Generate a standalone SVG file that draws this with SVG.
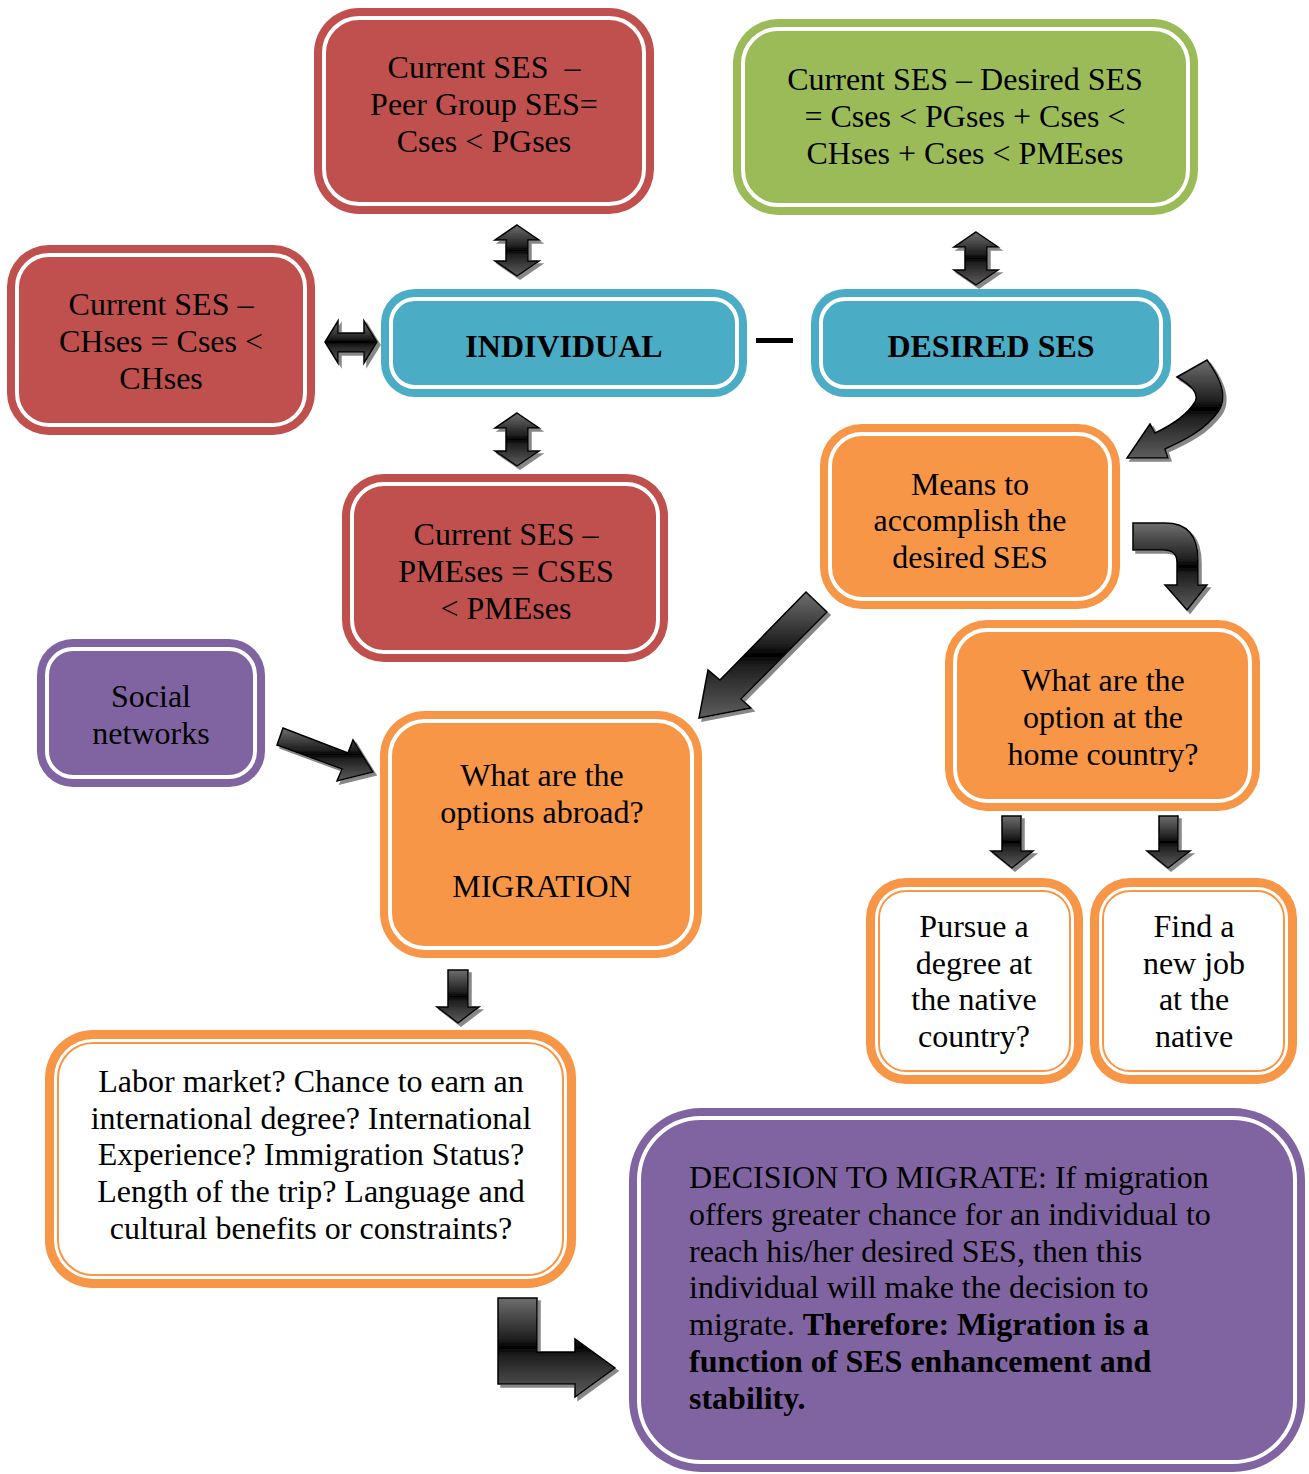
<svg xmlns="http://www.w3.org/2000/svg" width="1309" height="1474" viewBox="0 0 1309 1474">
<defs>
<linearGradient id="g" x1="0" y1="0" x2="0" y2="1">
<stop offset="0" stop-color="#6e6e6e"/>
<stop offset="0.42" stop-color="#1e1e1e"/>
<stop offset="0.5" stop-color="#000"/>
<stop offset="0.58" stop-color="#1e1e1e"/>
<stop offset="1" stop-color="#5e5e5e"/>
</linearGradient>
<filter id="sh" x="-20%" y="-20%" width="150%" height="150%">
<feDropShadow dx="3" dy="3" stdDeviation="0.6" flood-color="#7a7a7a" flood-opacity="0.9"/>
</filter>
</defs>
<style>
.t{font-family:"Liberation Serif","Times New Roman",serif;font-size:32px;fill:#000;text-anchor:middle}
.l{text-anchor:start}
.b{font-weight:bold}
.ln{fill:none;stroke:#fff;stroke-width:4}
.red{fill:#C0504D}
.grn{fill:#9BBB59}
.blu{fill:#4BACC6}
.org{fill:#F79646}
.pur{fill:#8064A2}
.wh{fill:#fff}
.thin{fill:none;stroke:#F79646;stroke-width:2}
.arr{fill:url(#g);stroke:#000;stroke-width:1.5;stroke-linejoin:miter;filter:url(#sh)}
</style>
<rect width="1309" height="1474" fill="#fff"/>

<g id="connectors">
<path class="arr" d="M517,225 L539,240 L528,240 L528,261 L539,261 L517,276 L495,261 L506,261 L506,240 L495,240 Z"/>
<path class="arr" d="M517,413 L539,428 L528,428 L528,451 L539,451 L517,466 L495,451 L506,451 L506,428 L495,428 Z"/>
<path class="arr" d="M976,232 L998,247 L987,247 L987,270 L998,270 L976,285 L954,270 L965,270 L965,247 L954,247 Z"/>
<path class="arr" d="M325,342 L338,321 L338,333 L364,333 L364,321 L377,342 L364,363 L364,352 L338,352 L338,363 Z"/>
<rect x="756" y="338" width="37" height="5" fill="#000"/>
<path class="arr" d="M1177,377 L1207,360 C1222,380 1228,398 1218,412 C1205,430 1185,440 1165,449 L1168,458 L1127,458 L1150,424 L1155,433 C1172,425 1187,415 1195,402 C1200,393 1190,385 1177,377 Z"/>
<path class="arr" d="M1133,523 L1165,523 Q1198,523 1198,560 L1198,585 L1207,585 L1187,610 L1165,585 L1177,585 L1177,562 Q1177,550 1163,550 L1133,550 Z"/>
<path class="arr" d="M806,592 L827,612 L741,699 L751,708 L699,718 L708,670 L720,680 Z"/>
<path class="arr" d="M283,728 L277,745 L342,769 L337,781 L373,772 L353,740 L348,753 Z"/>
<path class="arr" d="M1002,816 L1021,816 L1021,851 L1033,851 L1012,868 L991,851 L1002,851 Z"/>
<path class="arr" d="M1159,816 L1178,816 L1178,851 L1190,851 L1168,868 L1147,851 L1159,851 Z"/>
<path class="arr" d="M448,970 L468,970 L468,1007 L479,1007 L458,1023 L437,1007 L448,1007 Z"/>
<path class="arr" d="M498,1298 L537,1298 L537,1352 L575,1352 L575,1339 L615,1368 L575,1397 L575,1384 L498,1384 Z"/>
</g>

<g id="peer">
<rect class="red" x="314" y="8" width="340" height="206" rx="45"/>
<rect class="ln" x="324" y="18" width="320" height="186" rx="35"/>
<text class="t" x="484" y="78">Current SES&#160; –</text>
<text class="t" x="484" y="115">Peer Group SES=</text>
<text class="t" x="484" y="152">Cses &lt; PGses</text>
</g>

<g id="desiredFormula">
<rect class="grn" x="733" y="19" width="465" height="196" rx="45"/>
<rect class="ln" x="743" y="29" width="445" height="176" rx="35"/>
<text class="t" x="965" y="90">Current SES – Desired SES</text>
<text class="t" x="965" y="127">= Cses &lt; PGses + Cses &lt;</text>
<text class="t" x="965" y="164">CHses + Cses &lt; PMEses</text>
</g>

<g id="chses">
<rect class="red" x="7" y="245" width="308" height="190" rx="42"/>
<rect class="ln" x="17" y="255" width="288" height="170" rx="32"/>
<text class="t" x="161" y="315">Current SES –</text>
<text class="t" x="161" y="352">CHses = Cses &lt;</text>
<text class="t" x="161" y="389">CHses</text>
</g>

<g id="individual">
<rect class="blu" x="381" y="289" width="366" height="108" rx="34"/>
<rect class="ln" x="391" y="299" width="346" height="88" rx="24"/>
<text class="t b" x="564" y="357">INDIVIDUAL</text>
</g>

<g id="desired">
<rect class="blu" x="811" y="289" width="360" height="108" rx="34"/>
<rect class="ln" x="821" y="299" width="340" height="88" rx="24"/>
<text class="t b" x="991" y="357">DESIRED SES</text>
</g>

<g id="pmeses">
<rect class="red" x="342" y="474" width="326" height="188" rx="42"/>
<rect class="ln" x="352" y="484" width="306" height="168" rx="32"/>
<text class="t" x="506" y="545">Current SES –</text>
<text class="t" x="506" y="582">PMEses = CSES</text>
<text class="t" x="506" y="619">&lt; PMEses</text>
</g>

<g id="means">
<rect class="org" x="820" y="424" width="300" height="185" rx="42"/>
<rect class="ln" x="830" y="434" width="280" height="165" rx="32"/>
<text class="t" x="970" y="495">Means to</text>
<text class="t" x="970" y="531">accomplish the</text>
<text class="t" x="970" y="568">desired SES</text>
</g>

<g id="social">
<rect class="pur" x="37" y="639" width="228" height="148" rx="36"/>
<rect class="ln" x="47" y="649" width="208" height="128" rx="26"/>
<text class="t" x="151" y="707">Social</text>
<text class="t" x="151" y="744">networks</text>
</g>

<g id="abroad">
<rect class="org" x="380" y="711" width="322" height="247" rx="45"/>
<rect class="ln" x="390" y="721" width="302" height="227" rx="35"/>
<text class="t" x="542" y="786">What are the</text>
<text class="t" x="542" y="823">options abroad?</text>
<text class="t" x="542" y="897">MIGRATION</text>
</g>

<g id="home">
<rect class="org" x="945" y="620" width="315" height="191" rx="42"/>
<rect class="ln" x="955" y="630" width="295" height="171" rx="32"/>
<text class="t" x="1103" y="691">What are the</text>
<text class="t" x="1103" y="728">option at the</text>
<text class="t" x="1103" y="765">home country?</text>
</g>

<g id="pursue">
<rect class="org" x="866" y="878" width="217" height="206" rx="40"/>
<rect class="wh" x="875" y="887" width="199" height="188" rx="31"/>
<rect class="thin" x="879" y="891" width="191" height="180" rx="27"/>
<text class="t" x="974" y="937">Pursue a</text>
<text class="t" x="974" y="974">degree at</text>
<text class="t" x="974" y="1010">the native</text>
<text class="t" x="974" y="1047">country?</text>
</g>

<g id="job">
<rect class="org" x="1090" y="878" width="207" height="206" rx="40"/>
<rect class="wh" x="1099" y="887" width="189" height="188" rx="31"/>
<rect class="thin" x="1103" y="891" width="181" height="180" rx="27"/>
<text class="t" x="1194" y="937">Find a</text>
<text class="t" x="1194" y="974">new job</text>
<text class="t" x="1194" y="1010">at the</text>
<text class="t" x="1194" y="1047">native</text>
</g>

<g id="labor">
<rect class="org" x="45" y="1030" width="531" height="258" rx="48"/>
<rect class="wh" x="54" y="1039" width="513" height="240" rx="39"/>
<rect class="thin" x="58" y="1043" width="505" height="232" rx="35"/>
<text class="t" x="311" y="1092">Labor market? Chance to earn an</text>
<text class="t" x="311" y="1129">international degree? International</text>
<text class="t" x="311" y="1165">Experience? Immigration Status?</text>
<text class="t" x="311" y="1202">Length of the trip? Language and</text>
<text class="t" x="311" y="1239">cultural benefits or constraints?</text>
</g>

<g id="decision">
<rect class="pur" x="629" y="1108" width="676" height="364" rx="72"/>
<rect class="ln" x="639" y="1118" width="656" height="344" rx="62"/>
<text class="t l" x="689" y="1188">DECISION TO MIGRATE: If migration</text>
<text class="t l" x="689" y="1225">offers greater chance for an individual to</text>
<text class="t l" x="689" y="1262">reach his/her desired SES, then this</text>
<text class="t l" x="689" y="1298">individual will make the decision to</text>
<text class="t l" x="689" y="1335">migrate. <tspan class="b">Therefore: Migration is a</tspan></text>
<text class="t l b" x="689" y="1372">function of SES enhancement and</text>
<text class="t l b" x="689" y="1409">stability.</text>
</g>
</svg>
